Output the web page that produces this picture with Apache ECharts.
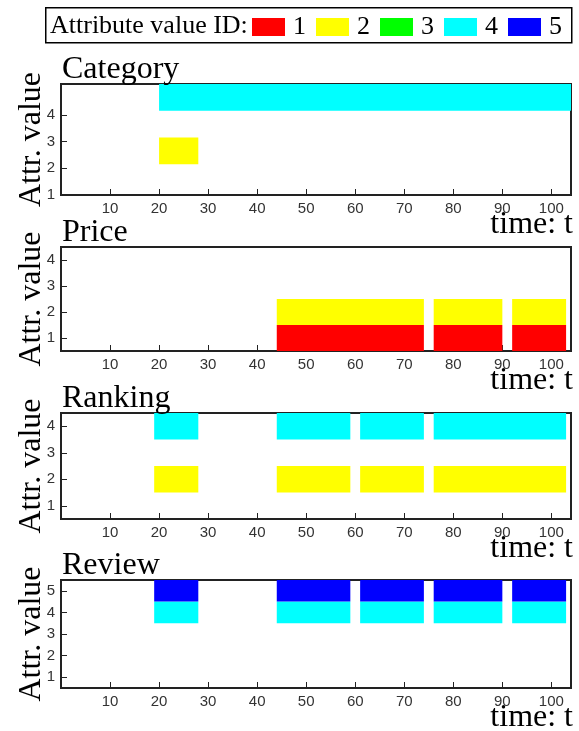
<!DOCTYPE html>
<html>
<head>
<meta charset="utf-8">
<script src="https://cdn.jsdelivr.net/npm/echarts@6/dist/echarts.min.js"></script>
<style>
	html, body { margin: 0; padding: 0; background: #fff; }
	#chart { width: 579px; height: 731px; }
</style>
</head>
<body>
<div id="chart"></div>
<script>
// time axis ticks
var timeTicks = [10, 20, 30, 40, 50, 60, 70, 80, 90, 100];
var timeMax = 104;

// attribute value IDs and their colours
var attrIds = ['1', '2', '3', '4', '5'];
var attrColors = ['#ff0000', '#ffff00', '#00ff00', '#00ffff', '#0000ff'];

// bars: [from t, to t, attribute value ID]
var categoryBars = [[20, 104, 4], [20, 28, 2]];
var priceBars = [
	[44, 74, 1], [76, 90, 1], [92, 103, 1],
	[44, 74, 2], [76, 90, 2], [92, 103, 2]
];
var rankingBars = [
	[19, 28, 4], [44, 59, 4], [61, 74, 4], [76, 103, 4],
	[19, 28, 2], [44, 59, 2], [61, 74, 2], [76, 103, 2]
];
var reviewBars = [
	[19, 28, 5], [44, 59, 5], [61, 74, 5], [76, 90, 5], [92, 103, 5],
	[19, 28, 4], [44, 59, 4], [61, 74, 4], [76, 90, 4], [92, 103, 4]
];

// y ticks per panel
var categoryTicks = [1, 2, 3, 4];
var priceTicks = [1, 2, 3, 4];
var rankingTicks = [1, 2, 3, 4];
var reviewTicks = [1, 2, 3, 4, 5];

var panels = [
	{ name: 'Category', bars: categoryBars, ticks: categoryTicks, top: 84, bottom: 195, yMin: 1, yMax: 5.15, shift: 0.65 },
	{ name: 'Price', bars: priceBars, ticks: priceTicks, top: 247, bottom: 351, yMin: 0.5, yMax: 4.5, shift: 0 },
	{ name: 'Ranking', bars: rankingBars, ticks: rankingTicks, top: 413, bottom: 519, yMin: 0.5, yMax: 4.5, shift: 0 },
	{ name: 'Review', bars: reviewBars, ticks: reviewTicks, top: 580, bottom: 688, yMin: 0.5, yMax: 5.5, shift: 0 }
];

var serif = '"Liberation Serif", "DejaVu Serif", serif';
var sans = '"Liberation Sans", Arial, sans-serif';
var lineColor = '#222';

function renderBar(params, api) {
	var shift = panels[api.value(3)].shift;
	var p0 = api.coord([api.value(0), api.value(2) + 0.5 + shift]);
	var p1 = api.coord([api.value(1), api.value(2) - 0.5 + shift]);
	var shape = echarts.graphic.clipRectByRect({
		x: p0[0], y: p0[1], width: p1[0] - p0[0], height: p1[1] - p0[1]
	}, {
		x: params.coordSys.x, y: params.coordSys.y,
		width: params.coordSys.width, height: params.coordSys.height
	});
	return shape && {
		type: 'rect',
		shape: shape,
		style: { fill: api.visual('color') }
	};
}

var grids = [], xAxes = [], yAxes = [], series = [], titles = [];

panels.forEach(function (p, i) {
	grids.push({
		left: 61, right: 8, top: p.top, height: p.bottom - p.top,
		outerBoundsMode: 'none', containLabel: false,
		show: true, borderColor: lineColor, borderWidth: 2, backgroundColor: 'transparent'
	});
	xAxes.push({
		type: 'value', gridIndex: i, min: 0, max: timeMax,
		axisLine: { show: true, lineStyle: { color: lineColor, width: 2 } },
		axisTick: { show: true, inside: true, length: 6, customValues: timeTicks, lineStyle: { color: lineColor } },
		axisLabel: { customValues: timeTicks, fontFamily: sans, fontSize: 15, color: '#333', margin: 6 },
		splitLine: { show: false }
	});
	yAxes.push({
		type: 'value', gridIndex: i, min: p.yMin, max: p.yMax,
		name: 'Attr. value', nameLocation: 'middle', nameGap: 13, nameRotate: 90,
		nameMoveOverlap: false,
		nameTextStyle: { fontFamily: serif, fontSize: 32, color: '#000' },
		axisLine: { show: true, lineStyle: { color: lineColor, width: 2 } },
		axisTick: { show: true, inside: true, length: 6, customValues: p.ticks, lineStyle: { color: lineColor } },
		axisLabel: { customValues: p.ticks, fontFamily: sans, fontSize: 15, color: '#333', margin: 6 },
		splitLine: { show: false }
	});
	titles.push({
		text: p.name, left: 57, top: p.top - 35,
		textStyle: { fontFamily: serif, fontSize: 32, fontWeight: 'normal', color: '#000', lineHeight: 32 }
	});
	titles.push({
		text: 'time: t', right: 1, top: p.bottom + 9,
		textStyle: { fontFamily: serif, fontSize: 32, fontWeight: 'normal', color: '#000', lineHeight: 32 }
	});
	attrIds.forEach(function (id, k) {
		var data = p.bars.filter(function (b) { return String(b[2]) === id; })
			.map(function (b) { return [b[0], b[1], b[2], i]; });
		series.push({
			name: id,
			type: 'custom',
			xAxisIndex: i,
			yAxisIndex: i,
			color: attrColors[k],
			renderItem: renderBar,
			encode: { x: [0, 1], y: 2 },
			data: data,
			silent: true
		});
	});
});

var myChart = echarts.init(document.getElementById('chart'), null, { renderer: 'canvas' });
var option = {
	animation: false,
	backgroundColor: '#fff',
	title: titles,
	grid: grids,
	xAxis: xAxes,
	yAxis: yAxes,
	legend: {
		data: attrIds,
		left: 247, top: 9,
		itemWidth: 33, itemHeight: 18, itemGap: 10,
		icon: 'rect',
		selectedMode: false,
		textStyle: { fontFamily: serif, fontSize: 26, color: '#000', padding: [0, 0, 0, 3] }
	},
	graphic: [
		{
			type: 'rect', left: 45, top: 7,
			shape: { width: 526, height: 35 },
			style: { fill: 'transparent', stroke: '#000', lineWidth: 1.5 }
		},
		{
			type: 'text', left: 50, top: 13,
			style: { text: 'Attribute value ID:', font: '26px ' + serif, fill: '#000' }
		}
	],
	series: series
};
myChart.setOption(option, true);
</script>
</body>
</html>
